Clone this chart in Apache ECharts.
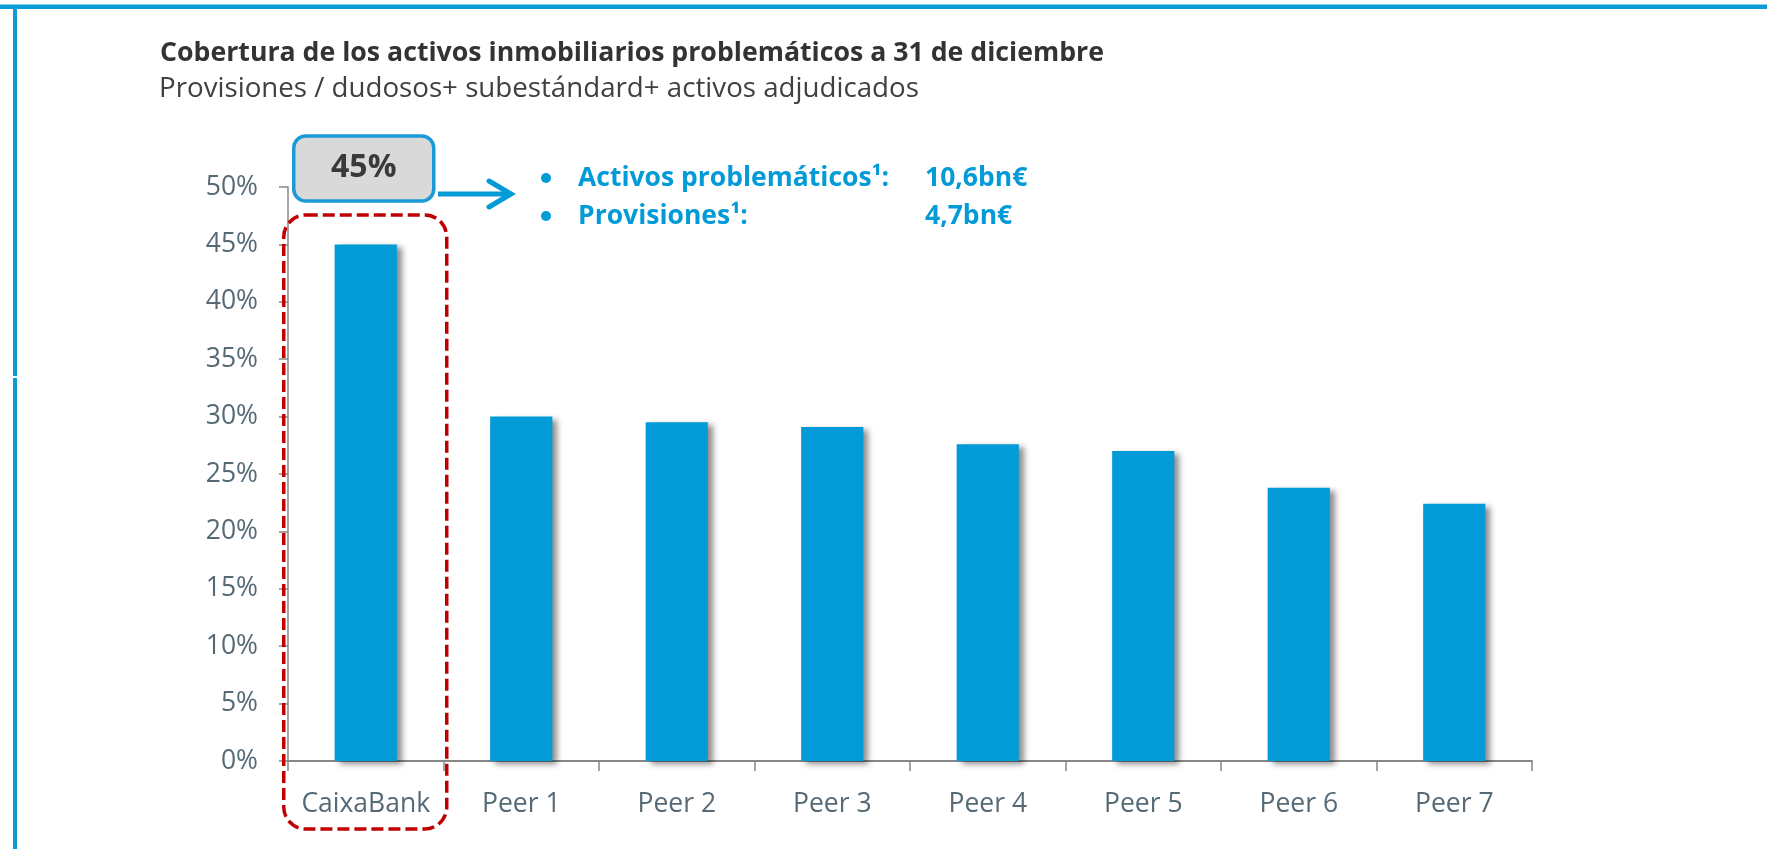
<!DOCTYPE html>
<html>
<head>
<meta charset="utf-8">
<script src="https://cdn.jsdelivr.net/npm/echarts@6/dist/echarts.min.js"></script>
<style>
html,body{margin:0;padding:0;background:#fff;}
#chart{width:1767px;height:849px;}
</style>
</head>
<body>
<div id="chart"></div>
<script>
// ---- data ----
var categories = ['CaixaBank', 'Peer 1', 'Peer 2', 'Peer 3', 'Peer 4', 'Peer 5', 'Peer 6', 'Peer 7'];
var coverage = [45, 30.0, 29.5, 29.1, 27.6, 27.0, 23.8, 22.4];
var yTicks = { min: 0, max: 50, interval: 5 };
var titleText = 'Cobertura de los activos inmobiliarios problemáticos a 31 de diciembre';
var subtitleText = 'Provisiones / dudosos+ subestándard+ activos adjudicados';
var calloutText = '45%';
var bulletLabels = ['Activos problemáticos¹:', 'Provisiones¹:'];
var bulletValues = ['10,6bn€', '4,7bn€'];

var BLUE = '#029bd7';
var FONT = '"Open Sans", "Noto Sans", sans-serif';

var chart = echarts.init(document.getElementById('chart'), null, { renderer: 'canvas' });

var option = {
  animation: false,
  backgroundColor: '#ffffff',
  grid: { left: 288, right: 235, top: 187, bottom: 88, containLabel: false },
  xAxis: {
    type: 'category',
    data: categories,
    boundaryGap: true,
    axisLine: { lineStyle: { color: '#878787', width: 2 } },
    axisTick: { show: true, length: 10, lineStyle: { color: '#878787', width: 1.5 } },
    axisLabel: { color: '#566a76', fontSize: 26.5, fontFamily: FONT, margin: 30, interval: 0 }
  },
  yAxis: {
    type: 'value',
    min: yTicks.min, max: yTicks.max, interval: yTicks.interval,
    axisLine: { show: true, lineStyle: { color: '#878787', width: 1.5 } },
    axisTick: { show: true, length: 9, lineStyle: { color: '#878787', width: 1.5 } },
    splitLine: { show: false },
    axisLabel: { color: '#566a76', fontSize: 26.5, fontFamily: FONT, margin: 30, formatter: '{value}%' }
  },
  series: [{
    type: 'bar',
    data: coverage,
    barWidth: '40%',
    itemStyle: {
      color: BLUE,
      shadowColor: 'rgba(0,0,0,0.45)',
      shadowBlur: 6,
      shadowOffsetX: 5,
      shadowOffsetY: 3
    },
    z: 3
  }],
  graphic: []
};
chart.setOption(option);

// annotation positions relative to the axes
var cx0 = chart.convertToPixel({ xAxisIndex: 0 }, categories[0]);
var yTop = chart.convertToPixel({ yAxisIndex: 0 }, yTicks.max);

var graphics = [
  // frame lines
  { type: 'rect', shape: { x: 0, y: 4, width: 1767, height: 1.5 }, style: { fill: '#86cdee' }, z: 10 },
  { type: 'rect', shape: { x: 0, y: 5, width: 1767, height: 4 }, style: { fill: '#0a9bd8' }, z: 10 },
  { type: 'rect', shape: { x: 13, y: 5, width: 4, height: 371 }, style: { fill: '#0a9bd8' }, z: 10 },
  { type: 'rect', shape: { x: 13, y: 378, width: 4, height: 471 }, style: { fill: '#0a9bd8' }, z: 10 },
  // title
  { type: 'text', x: 160, y: 53, style: { text: titleText, font: 'bold 26.7px ' + FONT, fill: '#333333', verticalAlign: 'middle' }, z: 10 },
  { type: 'text', x: 159, y: 89, style: { text: subtitleText, font: '27.7px ' + FONT, fill: '#404040', verticalAlign: 'middle' }, z: 10 },
  // dashed highlight box around CaixaBank
  { type: 'rect', shape: { x: cx0 - 82, y: 215, width: 163, height: 614, r: 22 },
    style: { fill: 'none', stroke: '#c00000', lineWidth: 3.5, lineDash: [12, 5] }, z: 8 },
  // callout box
  { type: 'rect', shape: { x: cx0 - 72, y: 136, width: 140, height: 65, r: 12 },
    style: { fill: '#d9d9d9', stroke: '#1a9bd7', lineWidth: 3.5 }, z: 9 },
  { type: 'text', x: cx0 - 2, y: 168, style: { text: calloutText, font: 'bold 32px ' + FONT, fill: '#3a3a3a', align: 'center', verticalAlign: 'middle' }, z: 10 },
  // arrow
  { type: 'line', shape: { x1: 438, y1: yTop + 7, x2: 510, y2: yTop + 7 }, style: { stroke: BLUE, lineWidth: 5 }, z: 9 },
  { type: 'polyline', shape: { points: [[489, yTop - 6], [511, yTop + 7], [489, yTop + 20]] }, style: { stroke: BLUE, lineWidth: 5, fill: 'none', lineCap: 'round', lineJoin: 'miter' }, z: 9 }
];
var rowsY = [178, 216];
for (var i = 0; i < bulletLabels.length; i++) {
  graphics.push({ type: 'circle', shape: { cx: 546, cy: rowsY[i], r: 5 }, style: { fill: BLUE }, z: 10 });
  graphics.push({ type: 'text', x: 578, y: rowsY[i], style: { text: bulletLabels[i], font: 'bold 26.5px ' + FONT, fill: BLUE, verticalAlign: 'middle' }, z: 10 });
  graphics.push({ type: 'text', x: 925, y: rowsY[i], style: { text: bulletValues[i], font: 'bold 26.5px ' + FONT, fill: BLUE, verticalAlign: 'middle' }, z: 10 });
}
chart.setOption({ graphic: graphics });
</script>
</body>
</html>
